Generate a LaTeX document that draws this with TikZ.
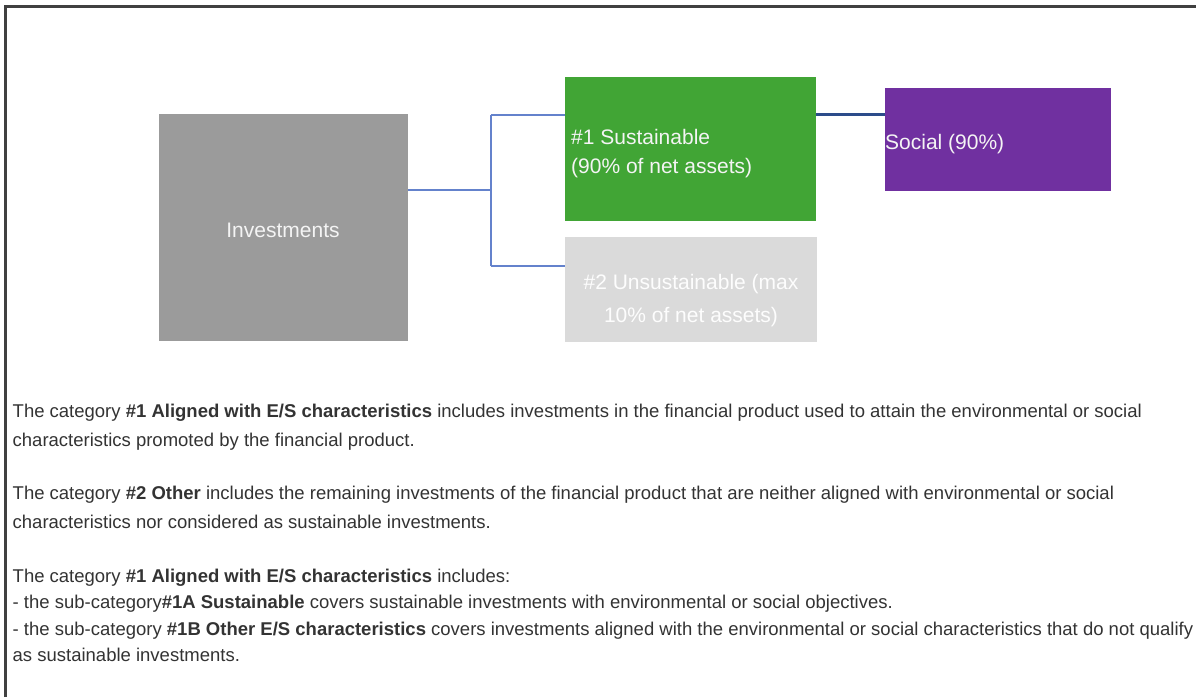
\documentclass[tikz,border=0pt]{standalone}
\usepackage{fontspec}
\setmainfont{Liberation Sans}
\definecolor{invgray}{HTML}{9B9B9B}
\definecolor{susgreen}{HTML}{41A535}
\definecolor{unsgray}{HTML}{DADADA}
\definecolor{socpurple}{HTML}{7030A0}
\definecolor{connblue}{HTML}{6482CC}
\definecolor{darkblue}{HTML}{2C4C8A}
\definecolor{bodytext}{HTML}{333333}
\definecolor{framegray}{HTML}{404040}
\definecolor{boxtext}{HTML}{F4F4F4}
\tikzset{
  boxnode/.style={rectangle, inner sep=0pt, anchor=north west},
  boxlabel/.style={inner sep=0pt, anchor=base, text=boxtext, font=\fontsize{21}{24}\selectfont},
  bodyline/.style={inner sep=0pt, anchor=base west, text=bodytext, font=\fontsize{18.5}{22}\selectfont},
  conn/.style={draw=connblue, line width=2pt},
  darkconn/.style={draw=darkblue, line width=2.2pt}
}
\begin{document}
\begin{tikzpicture}[x=1pt,y=-1pt]
\useasboundingbox (0,0) rectangle (1196,697);
\fill[white] (0,0) rectangle (1196,697);
% frame
\draw[framegray, line width=3pt] (5.5,697) -- (5.5,6) -- (1196,6);
% boxes
\node[boxnode, fill=invgray, minimum width=249pt, minimum height=227pt] (inv) at (159,114) {};
\node[boxnode, fill=susgreen, minimum width=251pt, minimum height=144pt] (sus) at (565,77) {};
\node[boxnode, fill=unsgray, minimum width=252pt, minimum height=105pt] (uns) at (565,237) {};
\node[boxnode, fill=socpurple, minimum width=226pt, minimum height=103pt] (soc) at (885,88) {};
% box labels
\node[boxlabel] (invlabel) at (283,237.5) {Investments};
\node[boxlabel, anchor=base west] (suslabel1) at (571,144.5) {\#1 Sustainable};
\node[boxlabel, anchor=base west] (suslabel2) at (571,173.5) {(90\% of net assets)};
\node[boxlabel, text=white!95!unsgray] (unslabel1) at (691,289.5) {\#2 Unsustainable (max};
\node[boxlabel, text=white!95!unsgray] (unslabel2) at (691,322.5) {10\% of net assets)};
\node[boxlabel, anchor=base west] (soclabel) at (885,149.5) {Social (90\%)};
% connectors
\coordinate (jm) at (491,190);
\coordinate (jt) at (491,114.5);
\coordinate (jb) at (491,266);
\draw[conn] (inv.east |- jm) -- (jm);
\draw[conn] (jb) -- (jt);
\draw[conn] (jt) -- (sus.west |- jt);
\draw[conn] (jb) -- (uns.west |- jb);
\draw[darkconn] (sus.east |- jt) -- (soc.west |- jt);
% body text
\node[bodyline] (l1) at (12.5,417) {The category \textbf{\#1 Aligned with E/S characteristics} includes investments in the financial product used to attain the environmental or social};
\node[bodyline] (l2) at (12.5,446) {characteristics promoted by the financial product.};
\node[bodyline] (l3) at (12.5,499) {The category \textbf{\#2 Other} includes the remaining investments of the financial product that are neither aligned with environmental or social};
\node[bodyline] (l4) at (12.5,528) {characteristics nor considered as sustainable investments.};
\node[bodyline] (l5) at (12.5,582) {The category \textbf{\#1 Aligned with E/S characteristics} includes:};
\node[bodyline] (l6) at (12.5,608.5) {- the sub-category\textbf{\#1A Sustainable} covers sustainable investments with environmental or social objectives.};
\node[bodyline] (l7) at (12.5,635) {- the sub-category \textbf{\#1B Other E/S characteristics} covers investments aligned with the environmental or social characteristics that do not qualify};
\node[bodyline] (l8) at (12.5,661.5) {as sustainable investments.};
\end{tikzpicture}
\end{document}
